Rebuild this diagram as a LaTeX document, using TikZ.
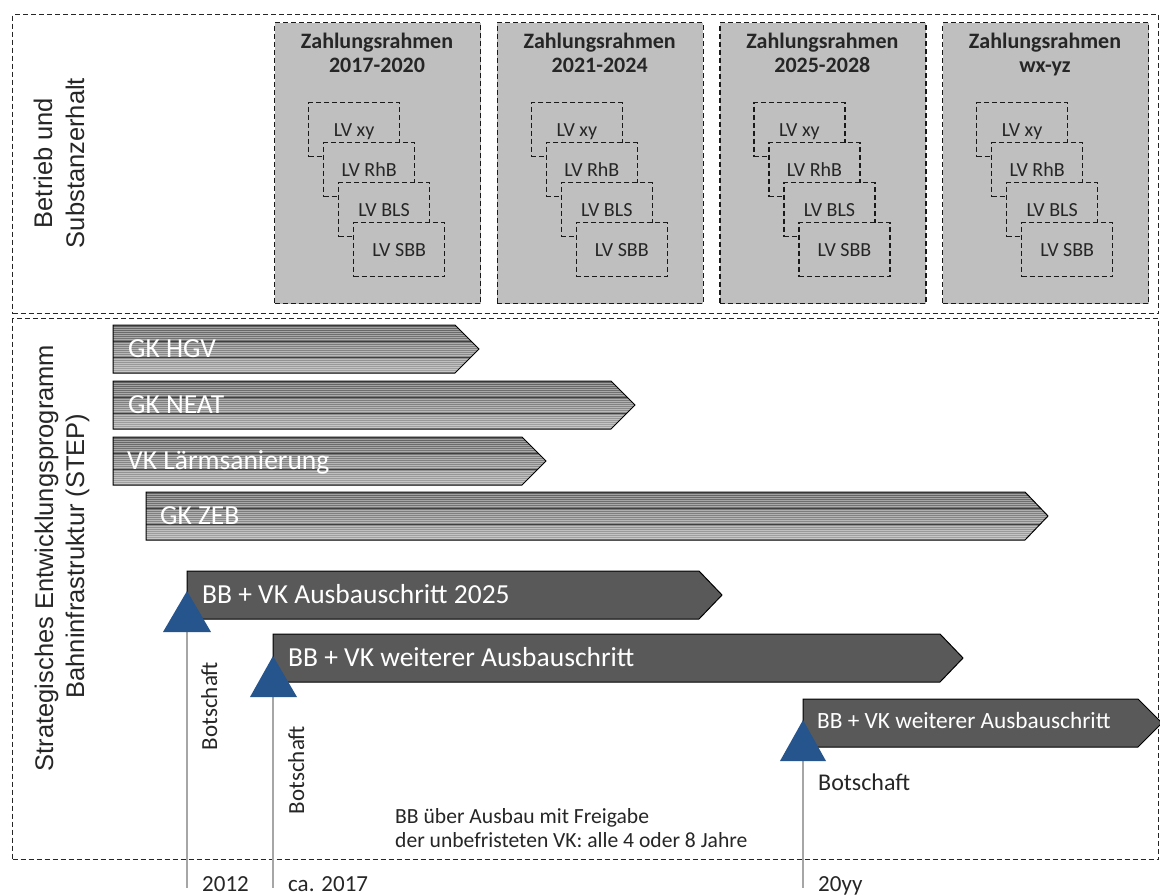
\documentclass[tikz,border=0pt]{standalone}
\usepackage{fontspec}
\setmainfont{Carlito}
\newfontfamily\arialfont{Liberation Sans}
\definecolor{framegray}{HTML}{BFBFBF}
\definecolor{darkbarcol}{HTML}{595959}
\definecolor{triblue}{RGB}{38,84,141}
\definecolor{stemgray}{HTML}{A6A6A6}
\definecolor{txt}{HTML}{262626}
\tikzset{
  outerbox/.style={draw=black!85, line width=1.1pt, dash pattern=on 5pt off 3pt, inner sep=0pt, anchor=north west},
  zbox/.style={draw=black!90, fill=framegray, line width=1.3pt, dash pattern=on 5pt off 3pt},
  lvbox/.style={zbox, minimum width=91pt, minimum height=54pt, anchor=north west, inner sep=0pt,
    text height=13pt, text depth=0pt, font=\fontsize{20}{24}\selectfont, text=txt},
  ztitle/.style={inner sep=0pt, anchor=base, font=\bfseries\fontsize{22}{26}\selectfont, text=txt},
  sidelab/.style={inner sep=0pt, anchor=base, rotate=90, font=\arialfont\fontsize{25.5}{30}\selectfont, text=txt},
  gktext/.style={inner sep=0pt, anchor=west, text=white, text height=17.5pt, text depth=0pt, font=\fontsize{27.5}{32}\selectfont},
  bbtext/.style={inner sep=0pt, anchor=west, text=white, text height=17pt, text depth=0pt, font=\fontsize{27.5}{32}\selectfont},
  bbsmall/.style={bbtext, text height=15pt, font=\fontsize{23.3}{28}\selectfont},
  darkbar/.style={draw=black, fill=darkbarcol, line width=1pt},
  tri/.style={fill=triblue},
  stem/.style={draw=stemgray, line width=1.5pt},
  small/.style={inner sep=0pt, text=txt, font=\fontsize{23}{27}\selectfont},
  info/.style={inner sep=0pt, text=txt, anchor=base west, font=\fontsize{21.6}{24}\selectfont},
}
\newcommand{\stripedbar}[7]{%
  \begin{scope}
    \clip (#2,#3) -- (#4,#3) -- (#5,{#3+24}) -- (#4,{#3+48}) -- (#2,{#3+48}) -- cycle;
    \shade[top color=black!62, bottom color=black!35] (#2,#3) rectangle (#5,{#3+48});
    \foreach \k in {0,...,23} {\fill[white,opacity=.4] (#2,{#3+2*\k+0.4}) rectangle (#5,{#3+2*\k+1.2});}
    \draw[black!75, line width=.8pt] (#2,{#3+16}) -- (#5,{#3+16}) (#2,{#3+32}) -- (#5,{#3+32});
  \end{scope}
  \draw[line width=1pt] (#2,#3) -- (#4,#3) -- (#5,{#3+24}) -- (#4,{#3+48}) -- (#2,{#3+48}) -- cycle;
  \node[gktext] (#1) at (#6,{#3+24}) {#7};
}
\newcommand{\darkbarshape}[4]{%
  \draw[darkbar] (#1,#2) -- (#3,#2) -- (#4,{#2+24}) -- (#3,{#2+48}) -- (#1,{#2+48}) -- cycle;
}
\begin{document}
\begin{tikzpicture}[x=1pt,y=-1pt]
\useasboundingbox (0,0) rectangle (1160,895);
\fill[white] (0,0) rectangle (1160,895);

% outer frames
\node[outerbox, minimum width=1146pt, minimum height=299pt] (topframe) at (12,14) {};
\node[outerbox, minimum width=1146pt, minimum height=541pt] (botframe) at (12,318) {};

% side labels
\node[sidelab] (lab1a) at (52,163) {Betrieb und};
\node[sidelab] (lab1b) at (84,163) {Substanzerhalt};
\node[sidelab] (lab2a) at (53,558) {Strategisches Entwicklungsprogramm};
\node[sidelab] (lab2b) at (84,556) {Bahninfrastruktur (STEP)};

% Zahlungsrahmen columns
\foreach \i/\yr in {0/2017-2020,1/2021-2024,2/2025-2028,3/wx-yz} {
  \pgfmathsetmacro\colx{274+222.67*\i}
  \node[zbox, minimum width=206pt, minimum height=281pt, anchor=north west, inner sep=0pt] (z\i) at (\colx,22) {};
  \node[ztitle] (zt\i) at ({\colx+103},48.3) {Zahlungsrahmen};
  \node[ztitle] (zy\i) at ({\colx+103},72.7) {\yr};
  \node[lvbox] (xy\i) at ({\colx+34},102) {LV xy};
  \node[lvbox] (rhb\i) at ({\colx+49},142) {LV RhB};
  \node[lvbox] (bls\i) at ({\colx+64},182) {LV BLS};
  \node[lvbox] (sbb\i) at ({\colx+79},222) {LV SBB};
}

% striped bars
\stripedbar{hgv}{113}{325}{455}{479}{128}{GK HGV}
\stripedbar{neat}{113}{381}{611}{635}{128}{GK NEAT}
\stripedbar{laerm}{113}{437}{522}{546}{127}{VK Lärmsanierung}
\stripedbar{zeb}{146}{492}{1025}{1048}{160}{GK ZEB}

% dark bars
\darkbarshape{187}{571}{699}{722}
\node[bbtext] (bb1) at (202,595) {BB + VK Ausbauschritt 2025};
\darkbarshape{273}{634}{940}{963}
\node[bbtext] (bb2) at (288,658) {BB + VK weiterer Ausbauschritt};
\darkbarshape{803}{699}{1138}{1162}
\node[bbsmall] (bb3) at (817,721) {BB + VK weiterer Ausbauschritt};

% stems and triangles
\coordinate (t1) at (187,632); \coordinate (e1) at (187,888);
\coordinate (t2) at (273,697); \coordinate (e2) at (273,888);
\coordinate (t3) at (803,761); \coordinate (e3) at (803,888);
\draw[stem] (t1) -- (e1);
\draw[stem] (t2) -- (e2);
\draw[stem] (t3) -- (e3);
\fill[tri] (187,591) -- (211,632) -- (163,632) -- cycle;
\fill[tri] (273,656) -- (297,697) -- (250,697) -- cycle;
\fill[tri] (803,720) -- (826,761) -- (780,761) -- cycle;

% Botschaft labels
\node[small, rotate=90, anchor=base] (bo1) at (217,706) {Botschaft};
\node[small, rotate=90, anchor=base] (bo2) at (304,770) {Botschaft};
\node[small, anchor=base west, font=\fontsize{24}{28}\selectfont] (bo3) at (818,790) {Botschaft};

% years
\node[small, anchor=base west] (y1) at (202,891) {2012};
\node[small, anchor=base west] (y2) at (288,891) {ca. 2017};
\node[small, anchor=base west] (y3) at (818,891) {20yy};

% info
\node[info] (inf1) at (395,823) {BB über Ausbau mit Freigabe};
\node[info] (inf2) at (395,847) {der unbefristeten VK: alle 4 oder 8 Jahre};
\end{tikzpicture}
\end{document}
